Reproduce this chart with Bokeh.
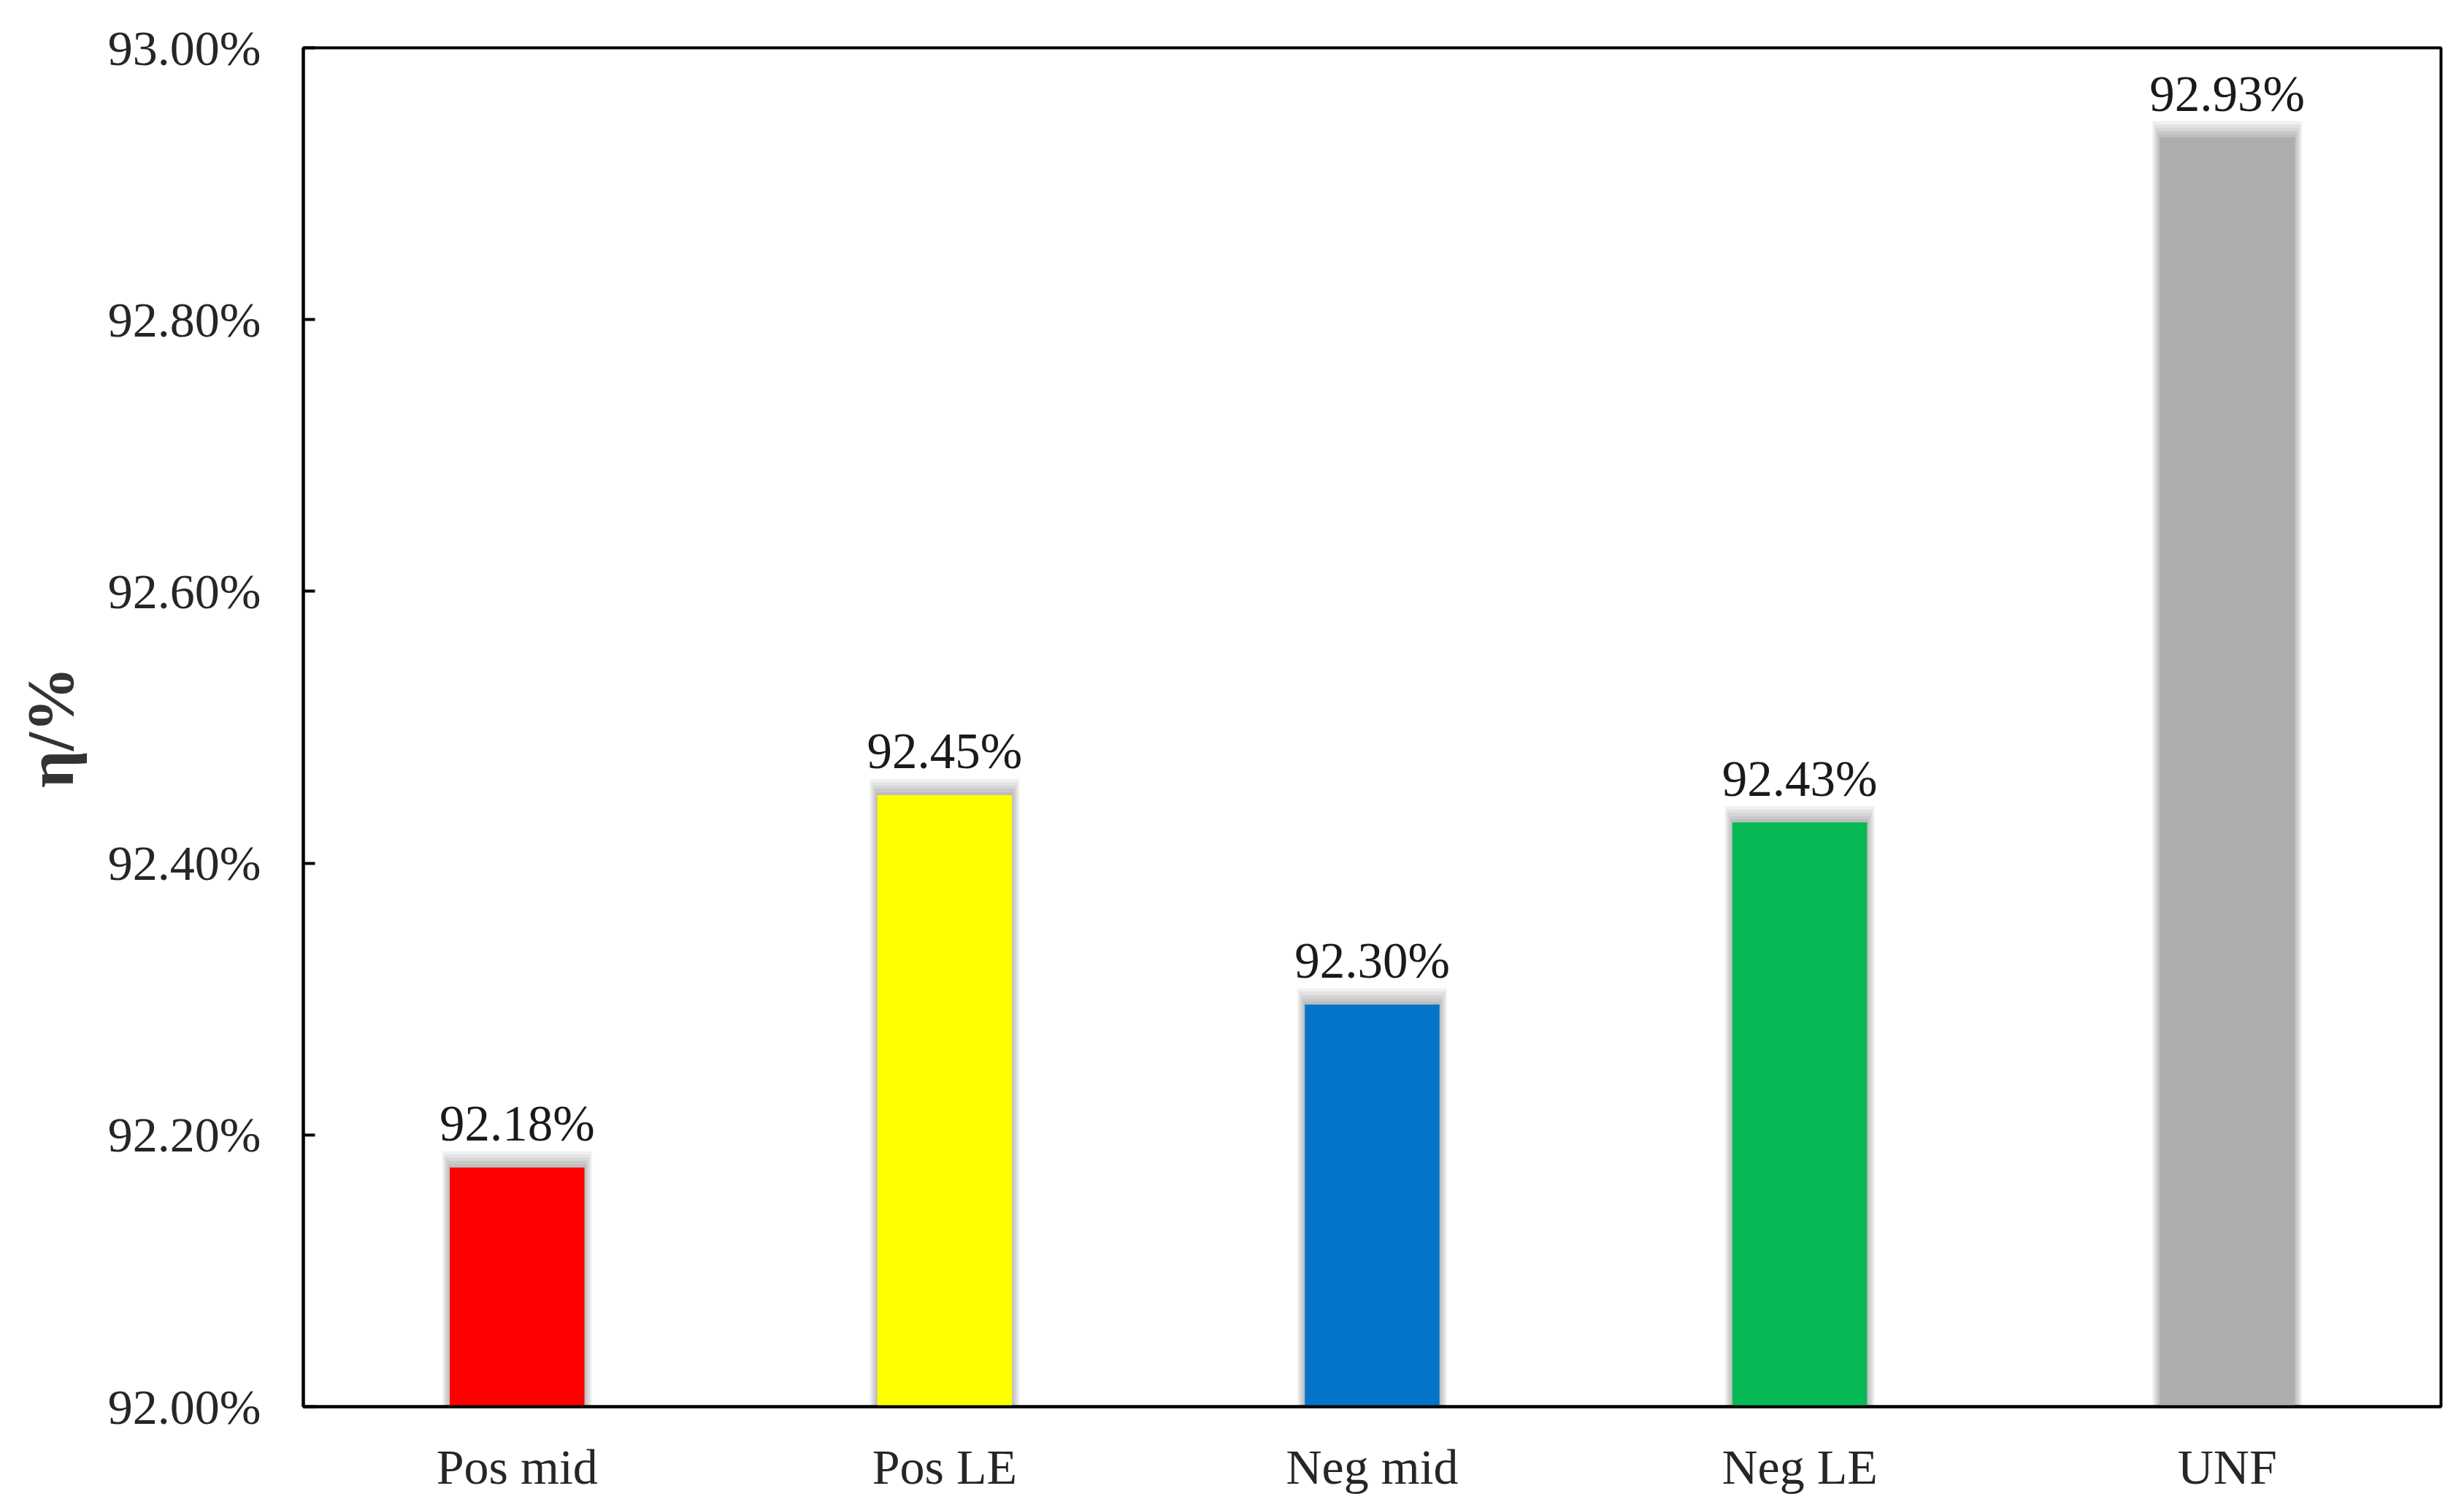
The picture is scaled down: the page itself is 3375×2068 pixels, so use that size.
from bokeh.plotting import figure
from bokeh.models import Range1d, FixedTicker, PrintfTickFormatter, ColumnDataSource
from bokeh.core.properties import value
from bokeh.transform import dodge
from bokeh.embed import file_html
from bokeh.resources import INLINE

categories = ["Pos mid", "Pos LE", "Neg mid", "Neg LE", "UNF"]
efficiency = [92.176, 92.45, 92.296, 92.43, 92.934]
bar_colors = ["#FF0000", "#FFFF00", "#0474C8", "#07B954", "#ADADAD"]
y_ticks = [92.0, 92.2, 92.4, 92.6, 92.8, 93.0]

labels = ["%.2f%%" % v for v in efficiency]
src = ColumnDataSource(dict(cat=categories, val=efficiency, color=bar_colors, label=labels))

FONT = "Liberation Serif"

p = figure(
    x_range=categories,
    y_range=Range1d(92.0, 93.0),
    width=3359, height=2052,
    output_backend="svg", toolbar_location=None,
    min_border_left=415, min_border_right=16, min_border_top=65, min_border_bottom=126,
    background_fill_color="white", border_fill_color="white",
)

# soft shadow layers
for k in range(1, 6):
    sh = dict(cat=categories, top=[v + 0.0024 * k for v in efficiency])
    p.vbar(x="cat", top="top", bottom=92.0, width=0.315 + 0.007 * k,
           source=ColumnDataSource(sh), fill_color="#000000", fill_alpha=0.055,
           line_color=None)

p.vbar(x="cat", top="val", bottom=92.0, width=0.315, source=src,
       fill_color="color", line_color=None)

p.text(x="cat", y=dodge("val", 0.032), text="label", source=src,
       text_font=value(FONT), text_font_size="69px", text_color="#1a1a1a",
       text_align="center", text_baseline="alphabetic")

p.xgrid.visible = False
p.ygrid.visible = False

p.outline_line_color = "black"
p.outline_line_width = 4
p.outline_line_alpha = 1.0

yax = p.yaxis[0]
yax.ticker = FixedTicker(ticks=y_ticks)
yax.formatter = PrintfTickFormatter(format="%.2f%%")
yax.major_tick_in = 16
yax.major_tick_out = 0
yax.minor_tick_in = 0
yax.minor_tick_out = 0
yax.major_tick_line_width = 4
yax.major_tick_line_color = "black"
yax.axis_line_width = 4
yax.axis_line_color = "black"
yax.major_label_text_font = FONT
yax.major_label_text_font_size = "68px"
yax.major_label_text_color = "#262626"
yax.major_label_standoff = 58
yax.axis_label = "η/%"
yax.axis_label_text_font = FONT
yax.axis_label_text_font_style = "bold"
yax.axis_label_text_font_size = "90px"
yax.axis_label_text_color = "#333333"
yax.axis_label_standoff = 26

xax = p.xaxis[0]
xax.major_tick_in = 0
xax.major_tick_out = 0
xax.minor_tick_in = 0
xax.minor_tick_out = 0
xax.axis_line_width = 4
xax.axis_line_color = "black"
xax.major_label_text_font = FONT
xax.major_label_text_font_size = "68px"
xax.major_label_text_color = "#262626"
xax.major_label_standoff = 44

open("out.html", "w").write(file_html(p, INLINE))
